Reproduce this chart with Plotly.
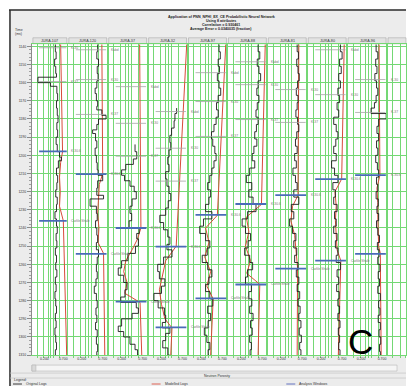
import plotly.graph_objects as go

W, H = 407, 388

# ---------------- data ----------------
WELLS = ["JURA-107", "JURA-120", "JURA-37", "JURA-32", "JURA-97",
         "JURA-88", "JURA-81", "JURA-80", "JURA-96"]

# original (measured) logs: time (ms) and neutron porosity
orig_t_107 = [1139, 1143, 1147, 1151, 1155, 1157, 1160, 1162, 1166, 1170, 1174, 1178, 1182, 1186, 1190, 1194,
              1198, 1201, 1203, 1207, 1211, 1215, 1219, 1223, 1227, 1231, 1235, 1239, 1243, 1247, 1251, 1255,
              1259, 1263, 1267, 1271, 1275, 1279, 1283, 1287, 1291, 1295, 1299, 1303, 1307, 1310]
orig_v_107 = [0.49, 0.51, 0.47, 0.50, 0.52, 0.03, 0.36, 0.53, 0.55, 0.52, 0.54, 0.56, 0.53, 0.55, 0.51, 0.54,
              0.60, 0.65, 0.57, 0.52, 0.55, 0.53, 0.50, 0.54, 0.52, 0.48, 0.52, 0.54, 0.51, 0.53, 0.49, 0.52,
              0.50, 0.53, 0.49, 0.51, 0.48, 0.50, 0.52, 0.49, 0.51, 0.48, 0.50, 0.52, 0.49, 0.50]

orig_t_120 = [1139, 1143, 1147, 1151, 1155, 1159, 1163, 1166, 1170, 1173, 1175, 1178, 1180, 1183, 1186, 1188,
              1192, 1196, 1200, 1204, 1208, 1211, 1214, 1218, 1222, 1224, 1228, 1232, 1236, 1240, 1244, 1248,
              1252, 1256, 1260, 1264, 1268, 1272, 1276, 1280, 1284, 1288, 1292, 1296, 1300, 1304, 1308, 1310]
orig_v_120 = [0.58, 0.56, 0.60, 0.57, 0.59, 0.56, 0.52, 0.55, 0.58, 0.56, 0.68, 0.78, 0.60, 0.56, 0.46, 0.53,
              0.56, 0.52, 0.55, 0.57, 0.59, 0.70, 0.58, 0.56, 0.72, 0.40, 0.55, 0.57, 0.53, 0.56, 0.58, 0.55,
              0.60, 0.57, 0.55, 0.57, 0.54, 0.50, 0.55, 0.57, 0.54, 0.56, 0.53, 0.57, 0.55, 0.58, 0.56, 0.57]

orig_t_37 = [1194, 1198, 1202, 1205, 1208, 1211, 1214, 1217, 1220, 1224, 1228, 1232, 1236, 1240, 1243, 1246,
             1250, 1254, 1258, 1262, 1266, 1270, 1274, 1278, 1281, 1284, 1287, 1290, 1294, 1297, 1300, 1304,
             1307, 1310]
orig_v_37 = [0.52, 0.56, 0.48, 0.30, 0.20, 0.27, 0.40, 0.50, 0.55, 0.45, 0.40, 0.44, 0.38, 0.62, 0.56, 0.60,
             0.53, 0.35, 0.20, 0.12, 0.25, 0.33, 0.28, 0.18, 0.55, 0.60, 0.45, 0.20, 0.12, 0.25, 0.40, 0.52,
             0.58, 0.60]

orig_t_32 = [1174, 1177, 1181, 1185, 1189, 1193, 1197, 1201, 1205, 1209, 1213, 1217, 1221, 1225, 1229, 1233,
             1237, 1241, 1245, 1249, 1252, 1256, 1260, 1264, 1268, 1272, 1276, 1280, 1284, 1288, 1292, 1295,
             1298, 1302, 1306, 1310]
orig_v_32 = [0.56, 0.52, 0.50, 0.44, 0.40, 0.42, 0.38, 0.35, 0.38, 0.30, 0.33, 0.38, 0.42, 0.36, 0.30, 0.16,
             0.25, 0.35, 0.40, 0.33, 0.45, 0.25, 0.11, 0.15, 0.28, 0.20, 0.02, 0.12, 0.27, 0.30, 0.22, 0.40,
             0.30, 0.23, 0.35, 0.40]

orig_t_4ms = [1139, 1143, 1147, 1151, 1155, 1159, 1163, 1167, 1171, 1175, 1179, 1183, 1187, 1191, 1195, 1199,
              1203, 1207, 1211, 1215, 1219, 1223, 1227, 1231, 1235, 1239, 1243, 1247, 1251, 1255, 1259, 1263,
              1267, 1271, 1275, 1279, 1283, 1287, 1291, 1295, 1299, 1303, 1307, 1310]
orig_v_97 = [0.62, 0.65, 0.60, 0.63, 0.58, 0.62, 0.66, 0.60, 0.56, 0.60, 0.55, 0.50, 0.44, 0.47, 0.52, 0.55,
             0.50, 0.45, 0.40, 0.35, 0.42, 0.38, 0.30, 0.45, 0.25, 0.16, 0.30, 0.40, 0.34, 0.22, 0.35, 0.45,
             0.38, 0.30, 0.40, 0.47, 0.35, 0.42, 0.36, 0.27, 0.33, 0.40, 0.36, 0.38]
orig_v_88 = [0.60, 0.64, 0.58, 0.62, 0.66, 0.60, 0.57, 0.62, 0.58, 0.55, 0.60, 0.56, 0.52, 0.57, 0.50, 0.46,
             0.52, 0.40, 0.32, 0.45, 0.38, 0.48, 0.55, 0.35, 0.22, 0.30, 0.42, 0.36, 0.28, 0.40, 0.47, 0.35,
             0.30, 0.44, 0.38, 0.45, 0.40, 0.48, 0.42, 0.46, 0.40, 0.44, 0.41, 0.43]
orig_v_81 = [0.58, 0.61, 0.57, 0.60, 0.63, 0.59, 0.56, 0.60, 0.58, 0.55, 0.59, 0.62, 0.57, 0.54, 0.58, 0.52,
             0.56, 0.48, 0.54, 0.58, 0.50, 0.62, 0.44, 0.50, 0.40, 0.47, 0.55, 0.50, 0.57, 0.52, 0.60, 0.56,
             0.62, 0.58, 0.64, 0.60, 0.65, 0.62, 0.67, 0.63, 0.68, 0.64, 0.67, 0.65]
orig_v_80 = [0.66, 0.70, 0.64, 0.68, 0.62, 0.66, 0.60, 0.64, 0.58, 0.62, 0.50, 0.56, 0.60, 0.55, 0.50, 0.56,
             0.45, 0.52, 0.60, 0.48, 0.54, 0.50, 0.58, 0.52, 0.56, 0.50, 0.58, 0.54, 0.60, 0.56, 0.66, 0.58,
             0.62, 0.57, 0.63, 0.60, 0.64, 0.60, 0.65, 0.61, 0.64, 0.62, 0.65, 0.63]

orig_t_96 = [1139, 1143, 1147, 1151, 1155, 1159, 1163, 1167, 1171, 1174, 1177, 1180, 1184, 1188, 1192, 1196,
             1200, 1204, 1208, 1212, 1216, 1220, 1224, 1228, 1232, 1236, 1240, 1244, 1248, 1252, 1256, 1260,
             1264, 1268, 1272, 1276, 1280, 1284, 1288, 1292, 1296, 1300, 1304, 1308, 1310]
orig_v_96 = [0.56, 0.60, 0.55, 0.58, 0.53, 0.57, 0.60, 0.56, 0.52, 0.44, 0.80, 0.62, 0.58, 0.62, 0.57, 0.60,
             0.55, 0.59, 0.62, 0.57, 0.60, 0.56, 0.61, 0.58, 0.62, 0.57, 0.60, 0.64, 0.59, 0.63, 0.60, 0.65,
             0.61, 0.64, 0.60, 0.66, 0.62, 0.65, 0.61, 0.66, 0.63, 0.67, 0.64, 0.66, 0.65]

# modelled logs
mod_t_107 = [1139, 1198, 1204, 1212, 1220, 1228, 1236, 1310]
mod_v_107 = [0.63, 0.68, 0.63, 0.60, 0.62, 0.60, 0.70, 0.79]
mod_t_120 = [1139, 1210, 1216, 1224, 1232, 1240, 1248, 1254, 1310]
mod_v_120 = [0.68, 0.70, 0.62, 0.60, 0.58, 0.61, 0.59, 0.72, 0.75]
mod_t_37 = [1139, 1240, 1246, 1252, 1258, 1264, 1270, 1276, 1281, 1310]
mod_v_37 = [0.63, 0.66, 0.58, 0.45, 0.30, 0.25, 0.33, 0.28, 0.64, 0.68]
mod_t_32 = [1139, 1250, 1258, 1266, 1274, 1282, 1290, 1295, 1310]
mod_v_32 = [0.80, 0.55, 0.30, 0.22, 0.15, 0.20, 0.28, 0.45, 0.42]
mod_t_97 = [1139, 1233, 1240, 1248, 1256, 1264, 1272, 1279, 1310]
mod_v_97 = [0.78, 0.58, 0.30, 0.38, 0.28, 0.42, 0.33, 0.48, 0.42]
mod_t_88 = [1139, 1227, 1234, 1242, 1250, 1258, 1265, 1271, 1310]
mod_v_88 = [0.77, 0.68, 0.32, 0.38, 0.30, 0.42, 0.33, 0.64, 0.60]
mod_t_81 = [1139, 1222, 1228, 1236, 1244, 1252, 1262, 1310]
mod_v_81 = [0.62, 0.60, 0.47, 0.43, 0.52, 0.55, 0.59, 0.58]
mod_t_80 = [1139, 1213, 1220, 1228, 1236, 1244, 1252, 1258, 1310]
mod_v_80 = [0.75, 0.69, 0.53, 0.56, 0.54, 0.56, 0.58, 0.67, 0.61]
mod_t_96 = [1139, 1211, 1218, 1226, 1234, 1242, 1250, 1254, 1310]
mod_v_96 = [0.63, 0.65, 0.58, 0.60, 0.60, 0.61, 0.62, 0.66, 0.68]

# analysis windows (top / base, ms)
win_top = [1197.8, 1210.4, 1240.0, 1250.3, 1232.8, 1226.8, 1221.9, 1213.1, 1210.9]
win_base = [1236.1, 1254.2, 1280.5, 1294.7, 1278.8, 1271.1, 1262.4, 1258.0, 1254.2]
WIN_TOP_NAME = "K-30.6"
WIN_BASE_NAME = "Carlile Shale"

# horizon markers (ms), None = not picked
kabd_t = [None, 1141.9, 1162.2, 1175.9, 1154.5, 1148.5, None, 1141.9, None]
k30_t = [1140.8, 1158.3, 1182.4, 1196.1, 1170.4, 1161.1, 1163.8, 1166.6, 1158.3]
k37_t = [1159.4, 1177.5, 1200.5, 1214.2, 1189.6, 1180.3, 1181.9, None, 1176.4]

ORIG_T = [orig_t_107, orig_t_120, orig_t_37, orig_t_32, orig_t_4ms, orig_t_4ms, orig_t_4ms, orig_t_4ms, orig_t_96]
ORIG_V = [orig_v_107, orig_v_120, orig_v_37, orig_v_32, orig_v_97, orig_v_88, orig_v_81, orig_v_80, orig_v_96]
MOD_T = [mod_t_107, mod_t_120, mod_t_37, mod_t_32, mod_t_97, mod_t_88, mod_t_81, mod_t_80, mod_t_96]
MOD_V = [mod_v_107, mod_v_120, mod_v_37, mod_v_32, mod_v_97, mod_v_88, mod_v_81, mod_v_80, mod_v_96]

X_TICKVALS = [0.2, 0.7]
X_TICKTEXT = ["0.200", "0.700"]

# ---------------- layout constants ----------------
EDGES = [32, 68, 108, 148, 188, 228, 268, 308, 348, 388]
PLOT_TOP, PLOT_BOT = 44, 357
XRANGE = [-0.13, 0.82]
TRANGE = [1310, 1138.6]
GRID_V = [0.01, 0.18, 0.30, 0.37, 0.44, 0.61]
GREEN = "#74d874"
FONT = "Liberation Sans, Arial, sans-serif"
TXT = "#333333"


def fx(p):
    return p / W


def fy(p):
    return 1 - p / H


fig = go.Figure()
layout = {}
shapes = []
annotations = []

# frame and backgrounds
shapes.append(dict(type="rect", xref="paper", yref="paper", x0=fx(10), x1=1, y0=0, y1=fy(10),
                   fillcolor="#ececec", line_width=0, layer="below"))
shapes.append(dict(type="rect", xref="paper", yref="paper", x0=fx(32), x1=1, y0=fy(PLOT_BOT), y1=fy(PLOT_TOP),
                   fillcolor="white", line_width=0, layer="below"))
shapes.append(dict(type="line", xref="paper", yref="paper", x0=fx(9), x1=1, y0=fy(10), y1=fy(10),
                   line=dict(color="#2a2a2a", width=1.5)))
shapes.append(dict(type="line", xref="paper", yref="paper", x0=fx(10), x1=fx(10), y0=0, y1=fy(10),
                   line=dict(color="#2a2a2a", width=1.5)))

ydom = [fy(PLOT_BOT), fy(PLOT_TOP)]

for k in range(10):
    n = k + 1
    sfx = "" if n == 1 else str(n)
    xref, yref = "x" + sfx, "y" + sfx
    if k < 9:
        dom = [fx(EDGES[k]), fx(EDGES[k + 1])]
        xr = XRANGE
        left_px, right_px = EDGES[k], EDGES[k + 1]
    else:
        dom = [fx(388), 1.0]
        xr = [XRANGE[0], XRANGE[0] + (W - 388) * (XRANGE[1] - XRANGE[0]) / 40.0]
        left_px, right_px = 388, W + 10
    xa = dict(domain=dom, range=xr, anchor=yref, showgrid=False, zeroline=False,
              showline=True, linecolor=GREEN, linewidth=1, mirror=True,
              tickmode="array", tickvals=X_TICKVALS if k < 9 else [],
              ticktext=X_TICKTEXT if k < 9 else [], ticks="",
              tickfont=dict(size=3.5, color=TXT, family=FONT),
              minor=dict(tickmode="array", tickvals=GRID_V, showgrid=True, gridcolor=GREEN,
                         gridwidth=1, ticks="outside", ticklen=2, tickcolor=GREEN),
              fixedrange=True)
    ya = dict(domain=ydom, range=TRANGE, anchor=xref, tick0=1140, dtick=10, showgrid=True,
              gridcolor=GREEN, gridwidth=1, zeroline=False, fixedrange=True)
    if n == 1:
        ya.update(showline=True, linecolor="#8a8a8a", mirror=False, showticklabels=True,
                  ticks="outside", ticklen=4, tickcolor="#8a8a8a",
                  tickfont=dict(size=3.5, color=TXT, family=FONT),
                  minor=dict(tick0=1140, dtick=2, ticks="outside", ticklen=2,
                             tickcolor="#a0a0a0", showgrid=False))
    else:
        ya.update(showline=True, linecolor=GREEN, mirror=True, showticklabels=False, ticks="")
    layout["xaxis" + sfx] = xa
    layout["yaxis" + sfx] = ya

    # header box
    shapes.append(dict(type="rect", xref="paper", yref="paper", x0=fx(left_px + 1),
                       x1=min(1.0, fx(right_px - 1)), y0=fy(44), y1=fy(38),
                       fillcolor="#e3e3e3", line=dict(color="#a8a8a8", width=0.6), layer="below"))

    if k == 9:
        fig.add_trace(go.Scatter(x=[None], y=[None], xaxis=xref, yaxis=yref, showlegend=False,
                                 hoverinfo="skip"))
        continue

    annotations.append(dict(xref="paper", yref="paper", x=fx((left_px + right_px) / 2), y=fy(41),
                            text=WELLS[k], showarrow=False, xanchor="center", yanchor="middle",
                            font=dict(size=3.7, color=TXT, family=FONT)))

    # modelled and original logs
    fig.add_trace(go.Scatter(x=MOD_V[k], y=MOD_T[k], xaxis=xref, yaxis=yref, mode="lines",
                             line=dict(color="#d84a3a", width=1), showlegend=False, hoverinfo="skip"))
    fig.add_trace(go.Scatter(x=ORIG_V[k], y=ORIG_T[k], xaxis=xref, yaxis=yref, mode="lines",
                             line=dict(color="#1c1c1c", width=0.9, shape="vh"),
                             showlegend=False, hoverinfo="skip"))

    dref = xref + " domain"
    # horizon markers
    for name, arr in (("Kabd", kabd_t), ("K-30", k30_t), ("K-37", k37_t)):
        t = arr[k]
        if t is None:
            continue
        shapes.append(dict(type="line", xref=dref, yref=yref, x0=0.2, x1=0.96, y0=t, y1=t,
                           line=dict(color="#a6a6a6", width=0.8)))
        annotations.append(dict(xref=dref, yref=yref, x=1.04, y=t, text=name, showarrow=False,
                                xanchor="left", yanchor="middle",
                                font=dict(size=3.3, color="#777777", family=FONT)))
    # analysis windows
    for j, (name, t) in enumerate(((WIN_TOP_NAME, win_top[k]), (WIN_BASE_NAME, win_base[k]))):
        shapes.append(dict(type="line", xref=dref, yref=yref, x0=0.2, x1=0.97, y0=t, y1=t,
                           line=dict(color="#4a6cb8", width=1.8)))
        if k == 8 and j == 1:
            continue  # label runs off the visible window on the last track
        annotations.append(dict(xref=dref, yref=yref, x=1.04, y=t, text=name, showarrow=False,
                                xanchor="left", yanchor="middle",
                                font=dict(size=3.3, color="#777777", family=FONT)))

# title
title_lines = ["Application of PNN_NPHI_EX_CE Probabilistic Neural Network",
               "Using 8 attributes",
               "Correlation = 0.930461",
               "Average Error = 0.0340035 (fraction)"]
for i, line in enumerate(title_lines):
    annotations.append(dict(xref="paper", yref="paper", x=fx(222), y=fy(17 + 4 * i), text="<b>" + line + "</b>",
                            showarrow=False, xanchor="center", yanchor="middle",
                            font=dict(size=3.6, color="#222222", family=FONT)))

# time axis title
annotations.append(dict(xref="paper", yref="paper", x=fx(13), y=fy(30), text="Time", showarrow=False,
                        xanchor="left", yanchor="middle", font=dict(size=3.5, color=TXT, family=FONT)))
annotations.append(dict(xref="paper", yref="paper", x=fx(13), y=fy(34), text="(ms)", showarrow=False,
                        xanchor="left", yanchor="middle", font=dict(size=3.5, color=TXT, family=FONT)))

# scrollbar and separators
shapes.append(dict(type="rect", xref="paper", yref="paper", x0=fx(32), x1=fx(398), y0=fy(373), y1=fy(367),
                   fillcolor="#f5f5f5", line=dict(color="#b5b5b5", width=0.6)))
shapes.append(dict(type="rect", xref="paper", yref="paper", x0=fx(32), x1=fx(36), y0=fy(373), y1=fy(367),
                   fillcolor="#dadada", line=dict(color="#b5b5b5", width=0.6)))
for yy in (375, 380):
    shapes.append(dict(type="line", xref="paper", yref="paper", x0=fx(10), x1=1, y0=fy(yy), y1=fy(yy),
                       line=dict(color="#c4c4c4", width=0.7)))
annotations.append(dict(xref="paper", yref="paper", x=fx(218), y=fy(377.5), text="Neutron Porosity",
                        showarrow=False, xanchor="center", yanchor="middle",
                        font=dict(size=3.5, color=TXT, family=FONT)))

# legend
annotations.append(dict(xref="paper", yref="paper", x=fx(12), y=fy(382), text="Legend:", showarrow=False,
                        xanchor="left", yanchor="middle", font=dict(size=3.5, color=TXT, family=FONT)))
legend_items = [("Original Logs", "#555555", 13), ("Modelled Logs", "#e07a6e", 152),
                ("Analysis Windows", "#7a86c8", 287)]
for name, col, x0 in legend_items:
    shapes.append(dict(type="line", xref="paper", yref="paper", x0=fx(x0), x1=fx(x0 + 9), y0=fy(386),
                       y1=fy(386), line=dict(color=col, width=1.2)))
    annotations.append(dict(xref="paper", yref="paper", x=fx(x0 + 11), y=fy(386), text=name,
                            showarrow=False, xanchor="left", yanchor="middle",
                            font=dict(size=3.5, color=TXT, family=FONT)))

# panel letter
annotations.append(dict(xref="paper", yref="paper", x=fx(361), y=fy(343), text="C", showarrow=False,
                        xanchor="center", yanchor="middle",
                        font=dict(size=35, color="black",
                                  family="Liberation Sans Narrow, Arial Narrow, Liberation Sans, Arial")))

layout.update(width=W, height=H, autosize=False, margin=dict(l=0, r=0, t=0, b=0, pad=0),
              paper_bgcolor="white", plot_bgcolor="white", showlegend=False,
              shapes=shapes, annotations=annotations, font=dict(family=FONT))
fig.update_layout(**layout)
fig.write_html("out.html")
